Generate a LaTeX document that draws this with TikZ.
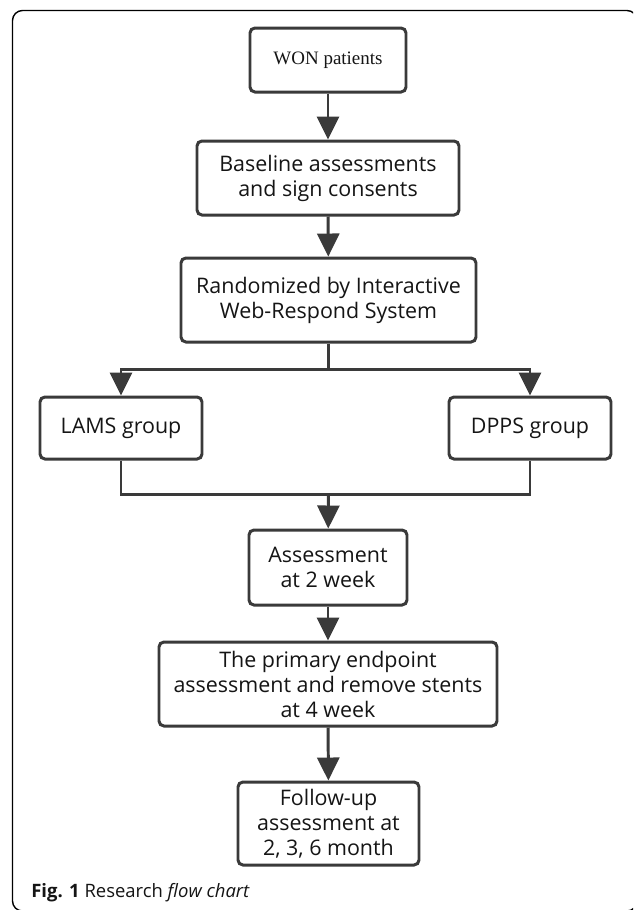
\documentclass[tikz,border=0pt]{standalone}
\usepackage{fontspec}
\setmainfont{Open Sans}
\newfontfamily\wonfont{Liberation Serif}
\usetikzlibrary{arrows.meta}
\definecolor{linegray}{HTML}{3A3A3A}
\definecolor{textgray}{HTML}{151515}

\begin{document}
\begin{tikzpicture}[
  stage/.style={draw=linegray, line width=1.7pt, rounded corners=2.8pt, align=center, inner sep=0pt, text=textgray, font=\fontsize{12.2}{14.2}\selectfont},
  flow/.style={draw=linegray, line width=1.7pt},
  >={Triangle[width=0.44cm,length=0.46cm]}
]
\clip (0,0) rectangle (12.66,-18.2);
\fill[white] (0,0) rectangle (12.66,-18.2);
\draw[line width=0.8pt, rounded corners=0.2cm] (0.25,-0.21) rectangle (12.74,-18.22);

\node[stage, minimum width=3.12cm, minimum height=1.28cm] at (6.56,-1.2) (won) {\wonfont\fontsize{10.8}{13}\selectfont WON patients};
\node[stage, minimum width=5.24cm, minimum height=1.48cm] at (6.56,-3.56) (base) {Baseline assessments \\ and sign consents};
\node[stage, minimum width=5.9cm, minimum height=1.68cm] at (6.57,-6.0) (rand) {Randomized by Interactive \\ Web-Respond System};

\coordinate (split) at (6.57,-7.38);

\node[stage, minimum width=3.24cm, minimum height=1.24cm] at (2.42,-8.56) (lams) {LAMS group};
\node[stage, minimum width=3.24cm, minimum height=1.24cm] at (10.6,-8.56) (dpps) {DPPS group};

\coordinate (join) at (6.57,-9.88);

\node[stage, minimum width=3.16cm, minimum height=1.5cm] at (6.56,-11.35) (assess) {Assessment \\ at 2 week};
\node[stage, minimum width=6.76cm, minimum height=1.68cm] at (6.56,-13.68) (primary) {The primary endpoint \\ assessment and remove stents \\ at 4 week};
\node[stage, minimum width=3.62cm, minimum height=1.66cm] at (6.57,-16.47) (follow) {Follow-up \\ assessment at \\ 2, 3, 6 month};

\draw[flow, ->] (won) -- (base);
\draw[flow, ->] (base) -- (rand);
\draw[flow] (rand) -- (split);
\draw[flow, ->] (split) -| (lams);
\draw[flow, ->] (split) -| (dpps);
\draw[flow] (lams) |- (join);
\draw[flow] (dpps) |- (join);
\draw[flow, ->] (join) -- (assess);
\draw[flow, ->] (assess) -- (primary);
\draw[flow, ->] (primary) -- (follow);

\node[anchor=base west, inner sep=0pt, text=textgray, font=\fontsize{10.5}{12}\selectfont] at (0.62,-17.94) (caption) {\textbf{Fig. 1} Research \textit{flow chart}};
\end{tikzpicture}
\end{document}
